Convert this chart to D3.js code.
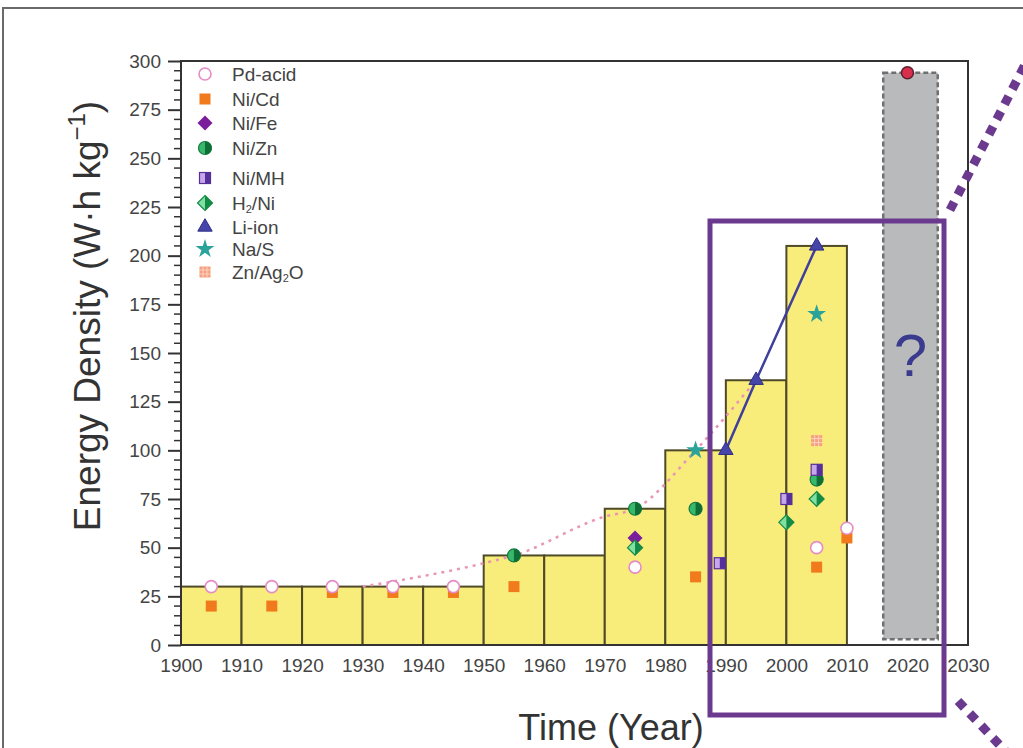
<!DOCTYPE html>
<html><head><meta charset="utf-8">
<script src="https://cdn.jsdelivr.net/npm/d3@7/dist/d3.min.js"></script>
<style>
html,body{margin:0;padding:0;background:#fff;}
svg{display:block;font-family:"Liberation Sans",Arial,sans-serif;}
</style></head>
<body>
<svg id="chart" width="1023" height="748"></svg>
<script>
// ---------- DATA ----------
const barStarts = [1900,1910,1920,1930,1940,1950,1960,1970,1980,1990,2000];
const barValues = [30,30,30,30,30,46,46,70,100,136,205];

const trendYears  = [1930,1950,1955,1970,1975,1985,1995];
const trendValues = [30,42,46,66,70,100,136];

const pdAcidYears  = [1905,1915,1925,1935,1945,1975,2005,2010];
const pdAcidValues = [30,30,30,30,30,40,50,60];
const niCdYears    = [1905,1915,1925,1935,1945,1955,1985,2005,2010];
const niCdValues   = [20,20,27,27,27,30,35,40,55];
const niFeYears    = [1975];
const niFeValues   = [55];
const niZnYears    = [1955,1975,1985,2005];
const niZnValues   = [46,70,70,85];
const niMHYears    = [1989,2000,2005];
const niMHValues   = [42,75,90];
const h2NiYears    = [1975,2000,2005];
const h2NiValues   = [50,63,75];
const liIonYears   = [1990,1995,2005];
const liIonValues  = [100,136,205];
const naSYears     = [1985,2005];
const naSValues    = [100,170];
const znAgYears    = [2005];
const znAgValues   = [105];

const futureYear = 2020, futureValue = 294;
const futureBoxYears = [2016,2025];
const futureBoxValues = [3,294];

const xTicks = [1900,1910,1920,1930,1940,1950,1960,1970,1980,1990,2000,2010,2020,2030];
const yTicks = [0,25,50,75,100,125,150,175,200,225,250,275,300];

const legendNames = ["Pd-acid","Ni/Cd","Ni/Fe","Ni/Zn","Ni/MH","H2/Ni","Li-ion","Na/S","Zn/Ag2O"];
const legendKeys  = ["pd","nicd","nife","nizn","nimh","h2ni","li","nas","znag"];

// ---------- SETUP ----------
const svg = d3.select("#chart");
const L = 181, R = 968, T = 61, B = 645;
const x = d3.scaleLinear().domain([1900,2030]).range([L,R]);
const y = d3.scaleLinear().domain([0,300]).range([B,T]);

// outer figure border
svg.append("rect").attr("x",3).attr("y",8).attr("width",1040).attr("height",760)
  .attr("fill","none").attr("stroke","#6a6a6a").attr("stroke-width",2);

// bars
svg.append("g").selectAll("rect").data(barStarts).join("rect")
  .attr("x",d=>x(d)).attr("width",d=>x(d+10)-x(d))
  .attr("y",(d,i)=>y(barValues[i])).attr("height",(d,i)=>y(0)-y(barValues[i]))
  .attr("fill","#f8ec7a").attr("stroke","#4e4a28").attr("stroke-width",2);

// future gray box
svg.append("rect")
  .attr("x",x(futureBoxYears[0])).attr("width",x(futureBoxYears[1])-x(futureBoxYears[0]))
  .attr("y",y(futureBoxValues[1])).attr("height",y(futureBoxValues[0])-y(futureBoxValues[1]))
  .attr("fill","#b9babc").attr("stroke","#707070").attr("stroke-width",2.5).attr("stroke-dasharray","5,3");
svg.append("text").attr("x",x((futureBoxYears[0]+futureBoxYears[1])/2)).attr("y",376)
  .attr("text-anchor","middle").attr("font-size",60).attr("fill","#3a3a8e").text("?");

// trend dotted line
svg.append("path").datum(trendYears.map((d,i)=>[d,trendValues[i]]))
  .attr("d",d3.line().x(d=>x(d[0])).y(d=>y(d[1])).curve(d3.curveMonotoneX))
  .attr("fill","none").attr("stroke","#e996b6").attr("stroke-width",2.5).attr("stroke-dasharray","3,5");

// frame / axes
svg.append("rect").attr("x",L).attr("y",T).attr("width",R-L).attr("height",B-T)
  .attr("fill","none").attr("stroke","#333").attr("stroke-width",2);

const yAxis = d3.axisLeft(y).tickValues(yTicks).tickSize(13).tickPadding(7);
const gy = svg.append("g").attr("transform",`translate(${L},0)`).call(yAxis);
gy.select(".domain").remove();
gy.selectAll("line").attr("stroke","#333").attr("stroke-width",2);
gy.selectAll("text").attr("font-size",19).attr("fill","#444").attr("font-family","Liberation Sans, Arial, sans-serif");
const yMinor = d3.range(0,301,5).filter(v=>v%25!==0);
svg.append("g").selectAll("line").data(yMinor).join("line")
  .attr("x1",L-7).attr("x2",L).attr("y1",d=>y(d)).attr("y2",d=>y(d))
  .attr("stroke","#333").attr("stroke-width",1.5);

const xAxis = d3.axisBottom(x).tickValues(xTicks).tickFormat(d3.format("d")).tickSize(0).tickPadding(14);
const gx = svg.append("g").attr("transform",`translate(0,${B})`).call(xAxis);
gx.select(".domain").remove();
gx.selectAll("text").attr("font-size",19).attr("fill","#444").attr("font-family","Liberation Sans, Arial, sans-serif");

// axis titles
svg.append("text").attr("x",611).attr("y",740).attr("text-anchor","middle")
  .attr("font-size",36).attr("fill","#333").text("Time (Year)");
const yt = svg.append("text").attr("transform","translate(100,316) rotate(-90)")
  .attr("text-anchor","middle").attr("font-size",37).attr("fill","#333");
yt.append("tspan").text("Energy Density (W\u00b7h kg");
yt.append("tspan").attr("font-size",24).attr("dy",-15).text("\u22121");
yt.append("tspan").attr("dy",15).text(")");

// Li-ion line
svg.append("path").datum(liIonYears.map((d,i)=>[d,liIonValues[i]]))
  .attr("d",d3.line().x(d=>x(d[0])).y(d=>y(d[1])))
  .attr("fill","none").attr("stroke","#3f3f9c").attr("stroke-width",2.5);

// ---------- MARKERS ----------
function drawMarker(g, key){
  if(key==="pd"){
    g.append("circle").attr("r",6).attr("fill","#fff").attr("stroke","#e58cc6").attr("stroke-width",1.6);
  } else if(key==="nicd"){
    g.append("rect").attr("x",-5.5).attr("y",-5.5).attr("width",11).attr("height",11).attr("fill","#f07a1c");
  } else if(key==="nife"){
    g.append("path").attr("d","M0,-7.5L7.5,0L0,7.5L-7.5,0Z").attr("fill","#7a1e9c");
  } else if(key==="nizn"){
    g.append("circle").attr("r",6.5).attr("fill","#37b86a").attr("stroke","#137a40").attr("stroke-width",1.2);
    g.append("path").attr("d",d3.arc()({innerRadius:0,outerRadius:6.5,startAngle:0,endAngle:Math.PI})).attr("fill","#0f6e36");
  } else if(key==="nimh"){
    g.append("rect").attr("x",-5.5).attr("y",-5.5).attr("width",11).attr("height",11).attr("fill","#c7a6ec").attr("stroke","#55309a").attr("stroke-width",1.2);
    g.append("rect").attr("x",0).attr("y",-5.5).attr("width",5.5).attr("height",11).attr("fill","#55309a");
  } else if(key==="h2ni"){
    g.append("path").attr("d","M0,-7.5L7.5,0L0,7.5L-7.5,0Z").attr("fill","#7fe0a2").attr("stroke","#138a46").attr("stroke-width",1.2);
    g.append("path").attr("d","M0,-7.5L7.5,0L0,7.5Z").attr("fill","#138a46");
  } else if(key==="li"){
    g.append("path").attr("d",d3.symbol(d3.symbolTriangle,90)()).attr("fill","#4646aa").attr("stroke","#2e2e86").attr("stroke-width",1);
  } else if(key==="nas"){
    g.append("path").attr("d",d3.symbol(d3.symbolStar,110)()).attr("fill","#2aa39b");
  } else if(key==="znag"){
    g.append("rect").attr("x",-5.5).attr("y",-5.5).attr("width",11).attr("height",11).attr("fill","#f6a07f");
    [-2,2].forEach(o=>{
      g.append("line").attr("x1",o).attr("x2",o).attr("y1",-5.5).attr("y2",5.5).attr("stroke","#fbd2c0").attr("stroke-width",1);
      g.append("line").attr("y1",o).attr("y2",o).attr("x1",-5.5).attr("x2",5.5).attr("stroke","#fbd2c0").attr("stroke-width",1);
    });
  }
}
function drawSeries(years, values, key){
  const gs = svg.append("g").selectAll("g").data(years).join("g")
    .attr("transform",(d,i)=>`translate(${x(d)},${y(values[i])})`);
  gs.each(function(){ drawMarker(d3.select(this), key); });
}
drawSeries(niCdYears, niCdValues, "nicd");
drawSeries(pdAcidYears, pdAcidValues, "pd");
drawSeries(niFeYears, niFeValues, "nife");
drawSeries(niZnYears, niZnValues, "nizn");
drawSeries(niMHYears, niMHValues, "nimh");
drawSeries(h2NiYears, h2NiValues, "h2ni");
drawSeries(liIonYears, liIonValues, "li");
drawSeries(naSYears, naSValues, "nas");
drawSeries(znAgYears, znAgValues, "znag");

// future point
svg.append("circle").attr("cx",x(futureYear)).attr("cy",y(futureValue)).attr("r",6)
  .attr("fill","#d8304c").attr("stroke","#5a2030").attr("stroke-width",1.5);

// ---------- LEGEND ----------
const legendY = [74,99,123,148,178,203,227,249,272];
legendNames.forEach((name,i)=>{
  const g = svg.append("g").attr("transform",`translate(205,${legendY[i]})`);
  drawMarker(g, legendKeys[i]);
  const t = svg.append("text").attr("x",232).attr("y",legendY[i]+7).attr("font-size",19).attr("fill","#444");
  if(name==="H2/Ni"){
    t.append("tspan").text("H");
    t.append("tspan").attr("font-size",11).attr("dy",3).text("2");
    t.append("tspan").attr("dy",-3).text("/Ni");
  } else if(name==="Zn/Ag2O"){
    t.append("tspan").text("Zn/Ag");
    t.append("tspan").attr("font-size",11).attr("dy",3).text("2");
    t.append("tspan").attr("dy",-3).text("O");
  } else t.text(name);
});

// ---------- ANNOTATIONS ----------
svg.append("rect").attr("x",710).attr("y",221).attr("width",234).attr("height",494)
  .attr("fill","none").attr("stroke","#6b3a8e").attr("stroke-width",5);
svg.append("line").attr("x1",950).attr("y1",210).attr("x2",1030).attr("y2",55)
  .attr("stroke","#6b3a8e").attr("stroke-width",9).attr("stroke-dasharray","9,8");
svg.append("line").attr("x1",958).attr("y1",701).attr("x2",1010).attr("y2",756)
  .attr("stroke","#6b3a8e").attr("stroke-width",9).attr("stroke-dasharray","9,8");
</script>
</body></html>
